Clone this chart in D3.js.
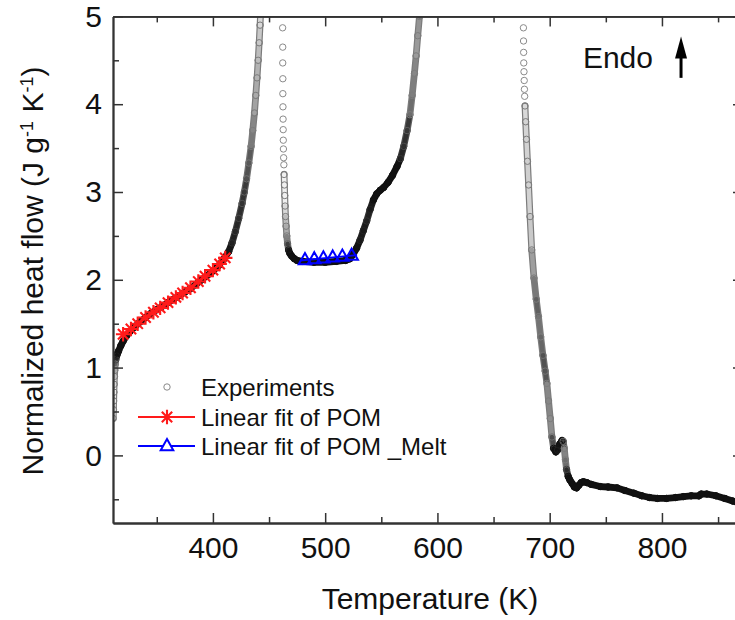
<!DOCTYPE html>
<html>
<head>
<meta charset="utf-8">
<title>Normalized heat flow</title>
<script src="https://cdn.jsdelivr.net/npm/d3@7"></script>
<style>
  body { margin: 0; background: #fff; }
  text { font-family: Arial, "Liberation Sans", sans-serif; fill: #111; }
  .axis .domain { stroke: #333; stroke-width: 1.8; }
  .axis line { stroke: #333; stroke-width: 1.5; }
  .axis text { font-size: 30px; fill: #111; }
</style>
</head>
<body>
<div id="chart"></div>
<script>
// experiment, first branch (heating up to the first peak)
var expAT = [311.2, 311.4, 311.6, 311.8, 312.0, 312.3, 312.6, 313.0, 313.5, 314.2, 315, 316, 318, 320, 323, 326, 330, 335, 340, 345, 350, 355, 360, 365, 370, 375, 380, 385, 390, 395, 400, 405, 410, 414, 417, 420, 423, 426, 428, 430, 432, 434, 435.5, 437, 438.2, 439.3, 440.3, 441.2, 442, 442.6];
var expAV = [0.42, 0.52, 0.62, 0.72, 0.81, 0.90, 0.97, 1.04, 1.09, 1.13, 1.16, 1.19, 1.25, 1.30, 1.36, 1.41, 1.46, 1.52, 1.57, 1.62, 1.66, 1.70, 1.74, 1.78, 1.82, 1.86, 1.90, 1.95, 2.00, 2.05, 2.10, 2.16, 2.24, 2.32, 2.42, 2.55, 2.70, 2.87, 3.00, 3.15, 3.33, 3.52, 3.70, 3.90, 4.10, 4.30, 4.50, 4.70, 4.90, 5.08];

// sparse points coming down from the first peak
var dropBT = [462.1, 462.2, 462.2, 462.3, 462.3, 462.4, 462.5, 462.6, 462.7, 462.8, 463.0, 463.2];
var dropBV = [4.87, 4.65, 4.47, 4.29, 4.12, 3.97, 3.83, 3.71, 3.59, 3.49, 3.39, 3.31];
// second branch (melt plateau and second peak)
var expBT = [463.4, 463.7, 464.0, 464.3, 464.7, 465.2, 465.8, 466.5, 467.4, 468.6, 470.2, 472.5, 475, 480, 490, 500, 510, 518, 522, 525, 528, 531, 534, 537, 540, 543, 546, 549, 552, 556, 560, 564, 567, 570, 573, 575.5, 577.5, 579.5, 581, 582.5, 584, 585];
var expBV = [3.20, 3.08, 2.96, 2.84, 2.72, 2.61, 2.50, 2.41, 2.34, 2.30, 2.27, 2.24, 2.22, 2.21, 2.20, 2.20, 2.21, 2.22, 2.24, 2.29, 2.36, 2.45, 2.56, 2.67, 2.80, 2.91, 2.98, 3.02, 3.05, 3.11, 3.19, 3.29, 3.38, 3.52, 3.70, 3.88, 4.10, 4.35, 4.55, 4.78, 5.00, 5.10];

// sparse points coming down from the second peak
var dropCT = [676.6, 676.7, 676.8, 676.9, 677.1, 677.3, 677.5, 677.7];
var dropCV = [4.87, 4.72, 4.59, 4.47, 4.37, 4.27, 4.17, 4.09];
// third branch (decomposition)
var expCT = [678.0, 678.6, 679.3, 680.2, 681.2, 682.5, 684, 686, 688, 690, 692, 694, 696, 697.5, 699, 700.5, 702, 703.5, 705.5, 707, 709, 711, 712, 713, 714, 715, 716.5, 718, 720, 722, 724, 726, 728, 730, 733, 737, 745, 752, 760, 767, 775, 782, 789, 796, 804, 812, 819, 826, 833, 835, 840, 848, 856, 863, 872];
var expCV = [3.98, 3.80, 3.60, 3.35, 3.08, 2.72, 2.34, 2.02, 1.78, 1.58, 1.35, 1.14, 0.96, 0.82, 0.62, 0.42, 0.21, 0.08, 0.04, 0.06, 0.13, 0.17, 0.16, 0.08, -0.05, -0.16, -0.24, -0.28, -0.32, -0.36, -0.37, -0.34, -0.31, -0.30, -0.31, -0.33, -0.355, -0.36, -0.37, -0.40, -0.43, -0.46, -0.48, -0.49, -0.49, -0.48, -0.47, -0.46, -0.46, -0.44, -0.44, -0.46, -0.49, -0.52, -0.55];

// linear fit of POM (stars)
var pomT = [320, 327, 333, 340, 347, 353, 360, 367, 373, 380, 387, 393, 400, 406, 411];
var pomV = [1.38, 1.44, 1.50, 1.57, 1.63, 1.68, 1.74, 1.80, 1.85, 1.91, 1.98, 2.04, 2.11, 2.18, 2.25];

// linear fit of POM melt (triangles) and its line
var meltT = [482, 490.3, 498.4, 506.7, 515.3, 523.6];
var meltV = [2.225, 2.235, 2.245, 2.255, 2.265, 2.275];
var meltLineT = [477.6, 528.4];
var meltLineV = [2.219, 2.281];

var xTicks = [400, 500, 600, 700, 800];
var xMinor = [350, 450, 550, 650, 750, 850];
var yTicks = [0, 1, 2, 3, 4, 5];
var yMinor = [-0.5, 0.5, 1.5, 2.5, 3.5, 4.5];
var legendLabels = ["Experiments", "Linear fit of POM", "Linear fit of POM _Melt"];

var width = 735, height = 620;
var plotL = 113, plotR = 743, plotT = 16.4, plotB = 523;

var svg = d3.select("#chart").append("svg")
  .attr("width", width)
  .attr("height", height);

var x = d3.scaleLinear().domain([311, 872.2]).range([plotL, plotR]);
var y = d3.scaleLinear().domain([-0.77, 5]).range([plotB, plotT]);

svg.append("clipPath").attr("id", "plot")
  .append("rect")
  .attr("x", plotL).attr("y", plotT)
  .attr("width", plotR - plotL).attr("height", plotB - plotT);

var g = svg.append("g").attr("clip-path", "url(#plot)");

// how dark the stacked circles look depends on the slope (circles are evenly spaced in T)
var innerColor = d3.scaleLog().domain([2.5, 6, 12, 30]).range(["#111", "#3a3a3a", "#9a9a9a", "#f0f0f0"]).clamp(true);
var outerColor = d3.scaleLog().domain([2.5, 8]).range(["#111", "#7c7c7c"]).clamp(true);

function steep(p, q) {
  var dx = Math.abs(q[0] - p[0]), dy = Math.abs(q[1] - p[1]);
  return Math.sqrt(dx * dx + dy * dy) / Math.max(dx, 0.01);
}

function band(ts, vs) {
  var pts = ts.map(function(t, i) { return [x(t), y(vs[i])]; });
  var segs = [];
  for (var i = 0; i < pts.length - 1; i++) {
    segs.push({ a: pts[i], b: pts[i + 1], r: steep(pts[i], pts[i + 1]) });
  }
  g.append("g").selectAll("line").data(segs).enter().append("line")
    .attr("x1", function(d) { return d.a[0]; }).attr("y1", function(d) { return d.a[1]; })
    .attr("x2", function(d) { return d.b[0]; }).attr("y2", function(d) { return d.b[1]; })
    .attr("stroke", function(d) { return outerColor(d.r); })
    .attr("stroke-width", 6.8)
    .attr("stroke-linecap", "round");
  g.append("g").selectAll("line").data(segs).enter().append("line")
    .attr("x1", function(d) { return d.a[0]; }).attr("y1", function(d) { return d.a[1]; })
    .attr("x2", function(d) { return d.b[0]; }).attr("y2", function(d) { return d.b[1]; })
    .attr("stroke", function(d) { return innerColor(d.r); })
    .attr("stroke-width", 4.4)
    .attr("stroke-linecap", "round");
  // circles on top, same tone as the band around them
  g.append("g").selectAll("circle").data(pts).enter().append("circle")
    .attr("cx", function(d) { return d[0]; })
    .attr("cy", function(d) { return d[1]; })
    .attr("r", 3.2)
    .attr("fill", "none")
    .attr("stroke-width", 1)
    .attr("stroke", function(d, i) {
      var j = Math.min(i, segs.length - 1);
      return outerColor(segs[j].r);
    });
}

function rings(ts, vs) {
  g.append("g").selectAll("circle").data(ts).enter().append("circle")
    .attr("cx", function(d) { return x(d); })
    .attr("cy", function(d, i) { return y(vs[i]); })
    .attr("r", 3.2)
    .attr("fill", "none")
    .attr("stroke", "#8a8a8a")
    .attr("stroke-width", 1);
}

band(expAT, expAV);
rings(dropBT, dropBV);
band(expBT, expBV);
rings(dropCT, dropCV);
band(expCT, expCV);

// marker shapes
function starPath(s) {
  var k = s * 0.72;
  return "M" + (-s) + ",0H" + s + "M0," + (-s) + "V" + s +
    "M" + (-k) + "," + (-k) + "L" + k + "," + k +
    "M" + (-k) + "," + k + "L" + k + "," + (-k);
}
function triPath(s) {
  return "M0," + (-s) + "L" + (s * 0.9) + "," + (s * 0.6) + "L" + (-s * 0.9) + "," + (s * 0.6) + "Z";
}

// red fit
var line = d3.line()
  .x(function(d) { return x(d[0]); })
  .y(function(d) { return y(d[1]); });

g.append("path")
  .datum(pomT.map(function(t, i) { return [t, pomV[i]]; }))
  .attr("d", line)
  .attr("fill", "none")
  .attr("stroke", "#ff1a1a")
  .attr("stroke-width", 2.2);

g.append("g").selectAll("path").data(pomT).enter().append("path")
  .attr("transform", function(d, i) { return "translate(" + x(d) + "," + y(pomV[i]) + ")"; })
  .attr("d", starPath(7.2))
  .attr("stroke", "#ff1a1a")
  .attr("stroke-width", 2.1)
  .attr("fill", "none");

// blue fit
g.append("path")
  .datum(meltLineT.map(function(t, i) { return [t, meltLineV[i]]; }))
  .attr("d", line)
  .attr("fill", "none")
  .attr("stroke", "#0000ff")
  .attr("stroke-width", 2);

g.append("g").selectAll("path").data(meltT).enter().append("path")
  .attr("transform", function(d, i) { return "translate(" + x(d) + "," + y(meltV[i]) + ")"; })
  .attr("d", triPath(7))
  .attr("stroke", "#0000ff")
  .attr("stroke-width", 2)
  .attr("fill", "none");

// axes, all ticks pointing inside
function styleAxis(sel) { sel.attr("class", "axis"); }

svg.append("g").call(styleAxis)
  .attr("transform", "translate(0," + plotB + ")")
  .call(d3.axisBottom(x).tickValues(xTicks).tickSizeInner(-10).tickSizeOuter(0).tickPadding(14));
svg.append("g").call(styleAxis)
  .attr("transform", "translate(0," + plotB + ")")
  .call(d3.axisBottom(x).tickValues(xMinor).tickSizeInner(-6).tickSizeOuter(0).tickFormat(""));
svg.append("g").call(styleAxis)
  .attr("transform", "translate(0," + plotT + ")")
  .call(d3.axisTop(x).tickValues(xTicks).tickSizeInner(-10).tickSizeOuter(0).tickFormat(""));
svg.append("g").call(styleAxis)
  .attr("transform", "translate(0," + plotT + ")")
  .call(d3.axisTop(x).tickValues(xMinor).tickSizeInner(-6).tickSizeOuter(0).tickFormat(""));

svg.append("g").call(styleAxis)
  .attr("transform", "translate(" + plotL + ",0)")
  .call(d3.axisLeft(y).tickValues(yTicks).tickFormat(d3.format("d")).tickSizeInner(-10).tickSizeOuter(0).tickPadding(11));
svg.append("g").call(styleAxis)
  .attr("transform", "translate(" + plotL + ",0)")
  .call(d3.axisLeft(y).tickValues(yMinor).tickSizeInner(-6).tickSizeOuter(0).tickFormat(""));
svg.append("g").call(styleAxis)
  .attr("transform", "translate(" + plotR + ",0)")
  .call(d3.axisRight(y).tickValues(yTicks).tickSizeInner(-10).tickSizeOuter(0).tickFormat(""));
svg.append("g").call(styleAxis)
  .attr("transform", "translate(" + plotR + ",0)")
  .call(d3.axisRight(y).tickValues(yMinor).tickSizeInner(-6).tickSizeOuter(0).tickFormat(""));

// axis titles
svg.append("text")
  .attr("x", 430).attr("y", 609)
  .attr("text-anchor", "middle")
  .style("font-size", "30px")
  .text("Temperature (K)");

var yt = svg.append("text")
  .attr("transform", "translate(43,271) rotate(-90)")
  .attr("text-anchor", "middle")
  .style("font-size", "30px");
yt.append("tspan").text("Normalized heat flow (J g");
yt.append("tspan").attr("baseline-shift", "super").style("font-size", "18px").text("-1");
yt.append("tspan").text(" K");
yt.append("tspan").attr("baseline-shift", "super").style("font-size", "18px").text("-1");
yt.append("tspan").text(")");

// Endo annotation
svg.append("text")
  .attr("x", x(792)).attr("y", y(4.41))
  .attr("text-anchor", "end")
  .style("font-size", "30px")
  .text("Endo");

var ax = x(817);
svg.append("line")
  .attr("x1", ax).attr("x2", ax)
  .attr("y1", y(4.30)).attr("y2", y(4.58))
  .attr("stroke", "#000").attr("stroke-width", 3);
svg.append("path")
  .attr("d", "M" + ax + "," + y(4.77) + "L" + (ax + 6) + "," + y(4.52) + "L" + (ax - 6) + "," + y(4.52) + "Z")
  .attr("fill", "#000");

// legend
var legend = svg.append("g").attr("transform", "translate(167,387)");
var rowH = [0, 30, 59];

legend.append("circle").attr("cx", 0).attr("cy", rowH[0]).attr("r", 3.2)
  .attr("fill", "none").attr("stroke", "#8a8a8a").attr("stroke-width", 1);

legend.append("line").attr("x1", -29).attr("x2", 28).attr("y1", rowH[1]).attr("y2", rowH[1])
  .attr("stroke", "#ff1a1a").attr("stroke-width", 2.2);
legend.append("path").attr("transform", "translate(0," + rowH[1] + ")")
  .attr("d", starPath(7.2)).attr("stroke", "#ff1a1a").attr("stroke-width", 2.1).attr("fill", "none");

legend.append("line").attr("x1", -29).attr("x2", 28).attr("y1", rowH[2]).attr("y2", rowH[2])
  .attr("stroke", "#0000ff").attr("stroke-width", 2.2);
legend.append("path").attr("transform", "translate(0," + rowH[2] + ")")
  .attr("d", triPath(7)).attr("stroke", "#0000ff").attr("stroke-width", 2).attr("fill", "white");

legend.selectAll("text.lab").data(legendLabels).enter().append("text")
  .attr("class", "lab")
  .attr("x", 34)
  .attr("y", function(d, i) { return rowH[i] + 8.5; })
  .style("font-size", "24px")
  .text(function(d) { return d; });
</script>
</body>
</html>
